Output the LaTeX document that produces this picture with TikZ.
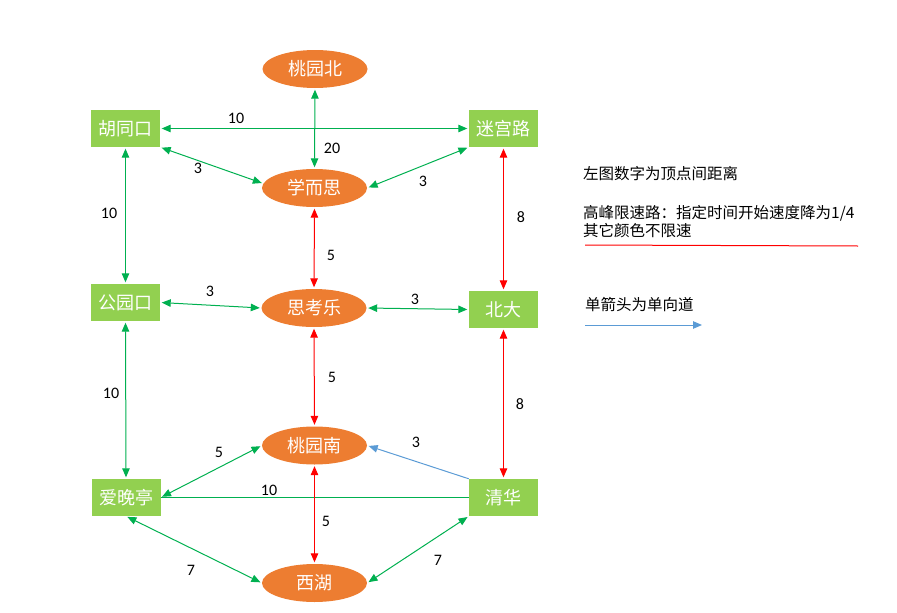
\documentclass[tikz,border=0pt]{standalone}
\usepackage{fontspec}
\setmainfont{Carlito}
\newfontfamily\cjk{Noto Sans CJK SC}
\usetikzlibrary{shapes.geometric,arrows.meta}

\definecolor{stgreen}{HTML}{92D050}
\definecolor{storange}{HTML}{ED7D31}
\definecolor{lkgreen}{HTML}{00B050}
\definecolor{lkblue}{HTML}{5B9BD5}

\begin{document}
\begin{tikzpicture}[x=1pt,y=-1pt,
    sq/.style={rectangle,fill=stgreen,minimum width=69pt,minimum height=37pt,inner sep=0pt,
      text=white,font=\cjk\fontsize{18}{18}\selectfont},
    ov/.style={ellipse,fill=storange,minimum width=105pt,minimum height=38pt,inner sep=0pt,
      text=white,font=\cjk\fontsize{18}{18}\selectfont},
    gl/.style={lkgreen,line width=1pt,{Triangle[length=9pt,width=7.5pt]}-{Triangle[length=9pt,width=7.5pt]},shorten <=1.5pt,shorten >=1.5pt},
    rl/.style={red,line width=1pt,{Triangle[length=9pt,width=7.5pt]}-{Triangle[length=9pt,width=7.5pt]},shorten <=1.5pt,shorten >=1.5pt},
    num/.style={inner sep=0pt,font=\fontsize{16}{16}\selectfont},
    note/.style={anchor=west,inner sep=0pt,align=left,font=\cjk\fontsize{15.5}{18}\selectfont}]
  \useasboundingbox (0,0) rectangle (897,613);

  \node[ov] (tyb) at (315,69) {桃园北};
  \node[sq] (hu) at (125.5,128.5) {胡同口};
  \node[sq] (mgl) at (503.5,128.5) {迷宫路};
  \node[ov] (xes) at (314.5,188) {学而思};
  \node[sq] (gyk) at (125.5,302.5) {公园口};
  \node[ov] (skl) at (314,308) {思考乐};
  \node[sq] (bd) at (503.5,309.5) {北大};
  \node[ov] (tyn) at (314.5,445.5) {桃园南};
  \node[sq] (awt) at (126,497.5) {爱晚亭};
  \node[sq] (qh) at (503.5,497.5) {清华};
  \node[ov] (xh) at (314.5,583) {西湖};

  \draw[gl] (hu.east) -- (mgl.west);
  \draw[gl] (tyb.south) -- (xes.north);
  \draw[gl] (hu.south east) -- (xes.175);
  \draw[gl] (mgl.south west) -- (xes.east);
  \draw[gl] (hu.south) -- (gyk.north);
  \draw[rl] (mgl.south) -- (bd.north);
  \draw[rl] (xes.south) -- (skl.north);
  \draw[gl] (gyk.east) -- (skl.west);
  \draw[gl] (skl.east) -- (bd.west);
  \draw[gl] (gyk.south) -- (awt.north);
  \draw[rl] (bd.south) -- (qh.north);
  \draw[rl] (skl.south) -- (tyn.north);
  \draw[gl] (awt.east) -- (tyn.west);
  \draw[lkblue,line width=1pt,-{Triangle[length=9pt,width=7.5pt]},shorten >=1.5pt] (qh.north west) -- (tyn.east);
  \draw[lkgreen,line width=1pt] (awt.east) -- (qh.west);
  \draw[rl] (tyn.south) -- (xh.north);
  \draw[gl] (awt.south) -- (xh.west);
  \draw[gl] (qh.south west) -- (xh.east);

  \node[num] (d1) at (236,118) {10};
  \node[num] (d2) at (332,148) {20};
  \node[num] (d3) at (198,168) {3};
  \node[num] (d4) at (423,181) {3};
  \node[num] (d5) at (109,213) {10};
  \node[num] (d6) at (521,217) {8};
  \node[num] (d7) at (331,255) {5};
  \node[num] (d8) at (210,291) {3};
  \node[num] (d9) at (415,299) {3};
  \node[num] (d10) at (332,377) {5};
  \node[num] (d11) at (111,393) {10};
  \node[num] (d12) at (520,404) {8};
  \node[num] (d13) at (416,442) {3};
  \node[num] (d14) at (219,452) {5};
  \node[num] (d15) at (269,490) {10};
  \node[num] (d16) at (326,521) {5};
  \node[num] (d17) at (191,570) {7};
  \node[num] (d18) at (438,560) {7};

  \node[note] (n1) at (583,174) {左图数字为顶点间距离};
  \node[note] (n2) at (583,222) {高峰限速路：指定时间开始速度降为1/4\\其它颜色不限速};
  \node[note] (n3) at (585,305) {单箭头为单向道};
  \coordinate (r1) at (585,245);
  \coordinate (r2) at (858,246);
  \draw[red,line width=1pt] (r1) -- (r2);
  \coordinate (b1) at (585,325);
  \coordinate (b2) at (702,325);
  \draw[lkblue,line width=1pt,-{Triangle[length=9pt,width=7.5pt]}] (b1) -- (b2);
\end{tikzpicture}
\end{document}
